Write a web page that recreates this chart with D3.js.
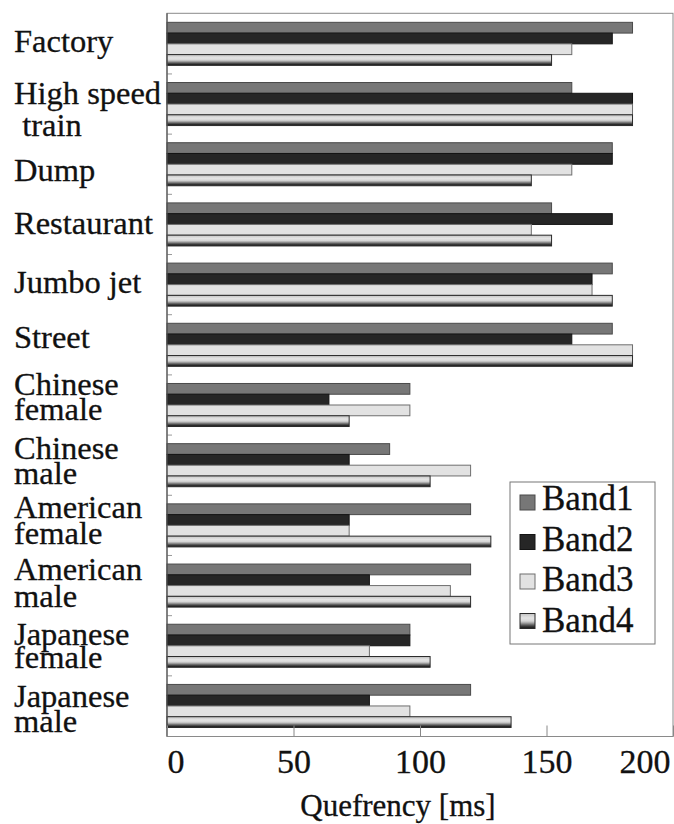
<!DOCTYPE html>
<html>
<head>
<meta charset="utf-8">
<script src="https://cdn.jsdelivr.net/npm/d3@7/dist/d3.min.js"></script>
<style>
  html, body { margin: 0; padding: 0; background: #fff; }
  svg { display: block; }
  svg text { font-family: "Liberation Serif", "Times New Roman", Times, Tinos, "DejaVu Serif", serif; fill: #111; }
</style>
</head>
<body>
<svg id="chart" width="674" height="824"></svg>
<script>
// ---------------- DATA ----------------
const categories = ["Factory", "High speed train", "Dump", "Restaurant", "Jumbo jet", "Street",
  "Chinese female", "Chinese male", "American female", "American male", "Japanese female", "Japanese male"];
const categoryLines = [["Factory"], ["High speed", " train"], ["Dump"], ["Restaurant"], ["Jumbo jet"], ["Street"],
  ["Chinese", "female"], ["Chinese", "male"], ["American", "female"], ["American", "male"], ["Japanese", "female"], ["Japanese", "male"]];
const bands = ["Band1", "Band2", "Band3", "Band4"];
const band1 = [184, 160, 176, 152, 176, 176, 96, 88, 120, 120, 96, 120];
const band2 = [176, 184, 176, 176, 168, 160, 64, 72, 72, 80, 96, 80];
const band3 = [160, 184, 160, 144, 168, 184, 96, 120, 72, 112, 80, 96];
const band4 = [152, 184, 144, 152, 176, 184, 72, 104, 128, 120, 104, 136];
const xTicks = [0, 50, 100, 150, 200];
const xTitle = "Quefrency [ms]";

// ---------------- LAYOUT ----------------
const FONT = '"Liberation Serif", "Times New Roman", Times, Tinos, "DejaVu Serif", serif';
const plot = { left: 167, right: 673, top: 13.3, bottom: 736.5 };
// baseline offset of first label line from band centre, and line gap
const labelDy = [8.5, 0, 17, 10, 8, 3, -10, -6, -7, -6, -1, 1];
const labelGap = [0, 32, 0, 0, 0, 0, 25, 25, 26, 27, 23, 25];

const svg = d3.select("#chart");

const defs = svg.append("defs");
const grad = defs.append("linearGradient").attr("id", "b4grad")
  .attr("x1", 0).attr("y1", 0).attr("x2", 0).attr("y2", 1);
[[0, "#c4c4c4"], [0.3, "#e4e4e4"], [0.5, "#d6d6d6"], [0.62, "#a8a8a8"], [0.78, "#5a5a5a"], [0.9, "#2a2a2a"], [1, "#1a1a1a"]]
  .forEach(([o, c]) => grad.append("stop").attr("offset", o).attr("stop-color", c));

const fills = { Band1: "#777777", Band2: "#262626", Band3: "#e2e2e2", Band4: "url(#b4grad)" };
const strokes = { Band1: "#4a4a4a", Band2: "#141414", Band3: "#6e6e6e", Band4: "#2a2a2a" };

const x = d3.scaleLinear().domain([0, 200]).range([plot.left, plot.right]);
const y = d3.scaleBand().domain(categories).range([plot.top, plot.bottom])
  .paddingInner(0.285).paddingOuter(0.15);
const yi = d3.scaleBand().domain(bands).range([0, y.bandwidth()]);

const series = { Band1: band1, Band2: band2, Band3: band3, Band4: band4 };
const rows = categories.map((c, i) => ({ cat: c, vals: bands.map(b => ({ band: b, v: series[b][i] })) }));

// frame
svg.append("rect")
  .attr("x", plot.left).attr("y", plot.top)
  .attr("width", plot.right - plot.left).attr("height", plot.bottom - plot.top)
  .attr("fill", "none").attr("stroke", "#8a8a8a").attr("stroke-width", 1);

// bars
const groups = svg.append("g").selectAll("g.grp").data(rows).join("g")
  .attr("class", "grp")
  .attr("transform", d => `translate(0,${y(d.cat)})`);
groups.selectAll("rect").data(d => d.vals).join("rect")
  .attr("x", x(0))
  .attr("y", d => yi(d.band))
  .attr("width", d => x(d.v) - x(0))
  .attr("height", yi.bandwidth())
  .attr("fill", d => fills[d.band])
  .attr("stroke", d => strokes[d.band])
  .attr("stroke-width", 1);

// left boundary ticks
svg.append("g").selectAll("line").data(categories.slice(1)).join("line")
  .attr("x1", plot.left).attr("x2", plot.left + 5)
  .attr("y1", d => y(d) - y.step() * y.paddingInner() / 2)
  .attr("y2", d => y(d) - y.step() * y.paddingInner() / 2)
  .attr("stroke", "#999").attr("stroke-width", 1);

// left axis line (darker)
svg.append("line").attr("x1", plot.left).attr("x2", plot.left)
  .attr("y1", plot.top).attr("y2", plot.bottom).attr("stroke", "#555").attr("stroke-width", 1.2);

// x axis
const xAxis = d3.axisBottom(x).tickValues(xTicks).tickSizeInner(-11).tickSizeOuter(0).tickPadding(12);
const ax = svg.append("g").attr("transform", `translate(0,${plot.bottom})`).call(xAxis);
ax.attr("font-family", FONT).attr("font-size", 34);
ax.select(".domain").remove();
ax.selectAll(".tick line").attr("stroke", "#888");
ax.selectAll(".tick text")
  .style("font-family", FONT).style("font-size", "34px").attr("fill", "#111")
  .attr("stroke", "#111").attr("stroke-width", 0.3)
  .attr("text-anchor", (d, i) => i === 0 ? "start" : (i === xTicks.length - 1 ? "end" : "middle"))
  .attr("dx", (d, i) => i === xTicks.length - 1 ? -3 : 0);

// x title
svg.append("text").attr("x", 398).attr("y", 816).attr("text-anchor", "middle")
  .attr("stroke", "#111").attr("stroke-width", 0.3)
  .style("font-family", FONT).style("font-size", "31px").text(xTitle);

// category labels
const lab = svg.append("g");
categories.forEach((c, i) => {
  const cy = y(c) + y.bandwidth() / 2 + labelDy[i];
  const t = lab.append("text").attr("x", 14).attr("y", cy)
    .attr("stroke", "#111").attr("stroke-width", 0.3)
    .style("font-family", FONT).style("font-size", "32.5px").style("white-space", "pre");
  categoryLines[i].forEach((ln, k) => {
    t.append("tspan").attr("x", 14).attr("y", cy + k * labelGap[i]).text(ln);
  });
});

// legend
const leg = svg.append("g");
leg.append("rect").attr("x", 510).attr("y", 482).attr("width", 145).attr("height", 162)
  .attr("fill", "#fff").attr("stroke", "#777").attr("stroke-width", 1);
bands.forEach((b, i) => {
  leg.append("rect").attr("x", 520).attr("y", 495 + i * 39.5).attr("width", 15).attr("height", 15)
    .attr("fill", fills[b]).attr("stroke", strokes[b]).attr("stroke-width", 1);
  leg.append("text").attr("x", 542).attr("y", 510 + i * 40.5)
    .attr("stroke", "#111").attr("stroke-width", 0.3)
    .style("font-family", FONT).style("font-size", "35px").text(b);
});
</script>
</body>
</html>
